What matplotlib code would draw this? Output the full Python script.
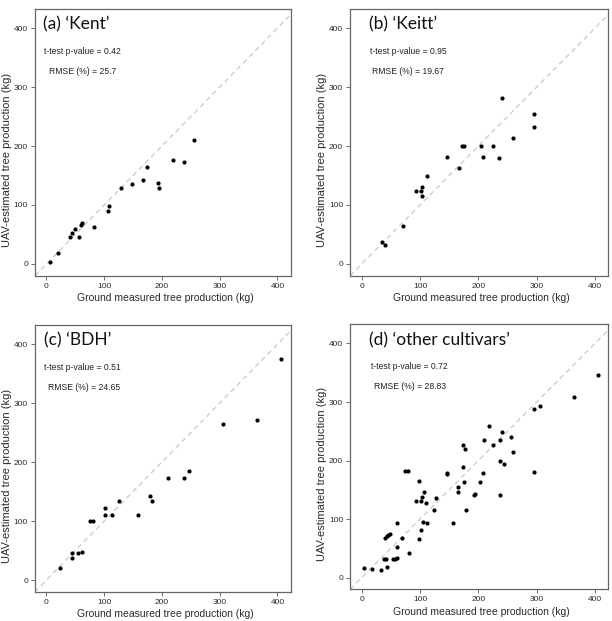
import matplotlib
matplotlib.use('Agg')
import matplotlib.pyplot as plt

plt.rcParams['font.family'] = ['Liberation Sans', 'DejaVu Sans']

# (a) Kent
kent_x = [5.8, 19.7, 40, 44.6, 48.7, 56.8, 60.3, 61.4, 82.3, 107.2, 109, 129.9, 147.8, 168, 174.5, 192.5, 195.4, 219.7, 237.7, 256.2]
kent_y = [2.8, 19.2, 45, 53, 60, 45, 66, 70, 62, 89.6, 98, 128, 136, 142.5, 164.5, 137, 129.6, 176, 173.5, 209.6]

# (b) Keitt
keitt_x = [34.8, 40.6, 70.1, 93.3, 101.4, 103.8, 103.2, 111.3, 146, 167, 172.8, 175.7, 204, 208.7, 225.5, 236, 240.6, 259, 295.7, 296.2]
keitt_y = [36.6, 32.7, 65, 124, 124, 131, 116, 149, 181, 163, 199.4, 200.6, 200.6, 181, 199.4, 179.7, 281, 213, 255, 232]

# (c) BDH
bdh_x = [24.3, 43.5, 43.5, 55, 61.4, 75.4, 80.6, 100.9, 100.9, 114.2, 125.8, 158.3, 179.1, 182, 211, 237.7, 247, 306, 365.2, 405.8]
bdh_y = [20.8, 36.6, 45, 45, 47.9, 99.7, 99.7, 122.8, 109.9, 109.9, 133.5, 109.9, 143.1, 133.5, 172.4, 172.4, 184.2, 264.2, 271.5, 374.6]

# (d) other cultivars
other_x = [3.5, 17.4, 33.6, 42.9, 37.7, 41.7, 53.3, 56.8, 59.7, 59.7, 60.3, 39.4, 42.9, 45.8, 48.1, 69.6, 80.6,
           74.2, 78.8, 99.1, 92.8, 100.9, 103.2, 107.2, 110.7, 98.6, 102, 105.5, 111.9, 128.1, 123.5, 145.5, 145.5,
           156.5, 165.8, 165.8, 173.3, 173.3, 177.9, 175.1, 179.7, 191.9, 194.2, 203.5, 208.7, 209.3, 218, 225.5,
           236.5, 240.6, 255.7, 259.1, 236.5, 244.6, 236.5, 295.7, 295.7, 305, 364.6, 405]
other_y = [17, 15.3, 13.6, 18.6, 31, 31, 31, 32.2, 33.3, 52.5, 93.8, 67.2, 70.6, 72.9, 75.1, 67.8, 41.8,
           183, 183, 165, 131, 131, 138.4, 146.3, 127.1, 66.7, 81.9, 94.4, 92.7, 136.7, 115.3, 178, 176.3,
           92.7, 155.4, 146.3, 189.3, 227.1, 220.3, 163.8, 115.8, 141.8, 142.9, 163.8, 178, 235.6, 258.2, 227.1,
           235.6, 248.6, 239.5, 215.3, 200, 194.9, 141.2, 180.2, 288.1, 293.8, 309, 346.9]

titles = ["(a) \u2018Kent\u2019", "(b) \u2018Keitt\u2019", "(c) \u2018BDH\u2019", "(d) \u2018other cultivars\u2019"]
pvalues = ["0.42", "0.95", "0.51", "0.72"]
rmses = ["25.7", "19.67", "24.65", "28.83"]
ticks = [0, 100, 200, 300, 400]

panels = [(kent_x, kent_y), (keitt_x, keitt_y), (bdh_x, bdh_y), (other_x, other_y)]
rects = [[0.057, 0.556, 0.418, 0.430],
         [0.572, 0.556, 0.422, 0.430],
         [0.057, 0.047, 0.418, 0.430],
         [0.572, 0.051, 0.422, 0.427]]
title_x = [-6, 13, -5, 13]
tt_x = [-5, 14, -5, 16]
rm_x = [5, 17, 3, 21]

fig = plt.figure(figsize=(6.12, 6.21), dpi=100)
for i, (xs, ys) in enumerate(panels):
    ax = fig.add_axes(rects[i])
    ax.plot([-20, 440], [-20, 440], color='#c8c8c8', linestyle=(0, (4, 3)), linewidth=0.9, zorder=1)
    ax.scatter(xs, ys, s=9, color='black', zorder=3, linewidths=0)
    ax.set_xlim(-20, 423)
    ax.set_ylim(-20, 433)
    ax.set_xticks(ticks)
    ax.set_yticks(ticks)
    ax.tick_params(labelsize=6, colors='#555555', labelcolor='#2a2a2a', length=3, width=0.6, pad=2)
    for sp in ax.spines.values():
        sp.set_color('#666666')
        sp.set_linewidth(0.9)
    ax.set_xlabel("Ground measured tree production (kg)", fontsize=7.5, color='#2a2a2a')
    ax.set_ylabel("UAV-estimated tree production (kg)", fontsize=8, color='#2a2a2a')
    ax.xaxis.set_label_coords(0.51, -0.065)
    ax.yaxis.set_label_coords(-0.09, 0.435)
    ax.text(title_x[i], 406, titles[i], fontsize=12.5, family=['Lato', 'DejaVu Sans'], va='center', color='#111111')
    ax.text(tt_x[i], 360, "t-test p-value = " + pvalues[i], fontsize=6.2, va='center', color='#222222')
    ax.text(rm_x[i], 327, "RMSE (%) = " + rmses[i], fontsize=6.2, va='center', color='#222222')

fig.savefig('out.png', dpi=100)
